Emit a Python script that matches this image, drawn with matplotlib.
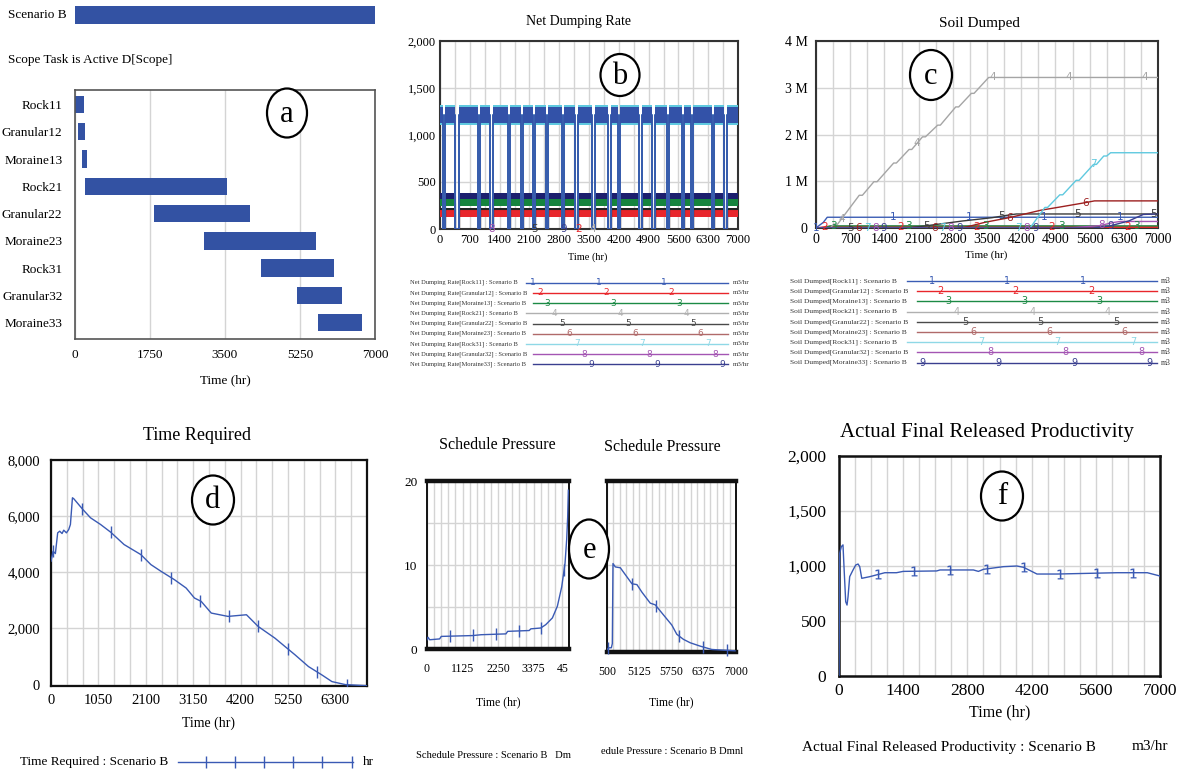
import numpy as np
import matplotlib
matplotlib.use("Agg")
import matplotlib.pyplot as plt
from matplotlib.patches import Ellipse

plt.rcParams['font.family'] = ['Liberation Serif', 'DejaVu Serif']
plt.rcParams['mathtext.fontset'] = 'dejavusans'

# ---------------- (a) task activity ----------------
scenario_span = [0, 7000]
tasks = ["Rock11", "Granular12", "Moraine13", "Rock21", "Granular22",
         "Moraine23", "Rock31", "Granular32", "Moraine33"]
task_start = [0, 70, 165, 235, 1845, 3000, 4340, 5170, 5660]
task_end = [200, 225, 290, 3545, 4090, 5615, 6050, 6220, 6690]

# ---------------- (b) net dumping rate, m3/hr ----------------
# idle periods (hr) shared by all scopes
rate_gaps = [(65, 110), (360, 440), (885, 950), (1185, 1250), (1590, 1645),
             (1905, 1960), (2180, 2240), (2490, 2545), (2860, 2920),
             (3180, 3235), (3580, 3640), (3955, 4015), (4180, 4235),
             (4685, 4740), (4990, 5050), (5325, 5385), (5680, 5740),
             (5890, 5950), (6385, 6445), (6665, 6730)]
rate_series = ["Granular12", "Granular22", "Moraine13", "Moraine33", "Rock31", "Rock11"]
rate_low = [125, 200, 240, 320, 1110, 1125]
rate_high = [200, 225, 318, 385, 1315, 1295]
rate_mark_text = ["8", "5", "9", "2", "4"]
rate_mark_t = [1210, 2230, 2915, 3250, 3595]

# ---------------- (c) soil dumped, million m3 ----------------
soil_rock11_t = [0, 60, 150, 230, 7000]
soil_rock11_v = [0, 0.05, 0.12, 0.23, 0.23]
soil_granular12_t = [0, 70, 225, 7000]
soil_granular12_v = [0, 0, 0.025, 0.025]
soil_moraine13_t = [0, 165, 290, 7000]
soil_moraine13_v = [0, 0, 0.045, 0.045]
soil_rock21_t = [0, 293, 360, 440, 885, 950, 1185, 1250, 1590, 1645, 1905, 1960,
                 2180, 2240, 2490, 2545, 2860, 2920, 3180, 3235, 3534, 7000]
soil_rock21_v = [0, 0, 0.08, 0.08, 0.70, 0.70, 0.99, 0.99, 1.39, 1.39, 1.68, 1.68,
                 1.95, 1.95, 2.20, 2.20, 2.59, 2.59, 2.88, 2.88, 3.22, 3.22]
soil_granular22_t = [0, 1850, 2200, 3000, 3600, 3900, 4100, 7000]
soil_granular22_v = [0, 0, 0.04, 0.15, 0.22, 0.27, 0.30, 0.30]
soil_moraine23_t = [0, 3000, 3450, 3950, 4600, 5000, 5500, 5700, 7000]
soil_moraine23_v = [0, 0, 0.12, 0.22, 0.38, 0.45, 0.54, 0.58, 0.58]
soil_rock31_t = [0, 4380, 4685, 4740, 4990, 5050, 5325, 5385, 5680, 5740,
                 5890, 5950, 6030, 7000]
soil_rock31_v = [0, 0, 0.44, 0.44, 0.71, 0.71, 1.02, 1.02, 1.36, 1.36,
                 1.54, 1.54, 1.61, 1.61]
soil_granular32_t = [0, 5170, 5800, 6100, 6230, 7000]
soil_granular32_v = [0, 0, 0.05, 0.12, 0.14, 0.14]
soil_moraine33_t = [0, 5660, 6000, 6400, 6700, 7000]
soil_moraine33_v = [0, 0, 0.04, 0.15, 0.29, 0.30]
soil_label_t = [[0, 1569, 3125, 4673, 6215], [177, 1726, 3295, 4830, 6379],
                [362, 1897, 3466, 5015, 6556], [519, 2067, 3623, 5171, 6720],
                [703, 2258, 3793, 5356, 6911], [873, 2422, 3964, 5512],
                [1044, 2593, 4148, 5683], [1214, 2763, 4319, 5854],
                [1385, 2941, 4489, 6024]]

# ---------------- (d) time required, hr ----------------
time_req_t = [0, 45, 97, 148, 193, 245, 282, 342, 393, 430, 475, 505, 705, 876,
              1099, 1322, 1619, 1990, 2213, 2436, 2733, 2993, 3178, 3327, 3550,
              3921, 4330, 4589, 4960, 5183, 5406, 5703, 6000, 6223, 6520, 7000]
time_req_v = [4393, 4750, 4667, 5405, 5464, 5381, 5500, 5405, 5524, 5702, 6655,
              6619, 6238, 5940, 5702, 5429, 4988, 4631, 4274, 4036, 3738, 3440,
              3083, 2964, 2548, 2429, 2488, 2071, 1655, 1357, 1060, 643, 345,
              107, 0, -40]
time_req_marks = [45, 690, 1322, 1990, 2659, 3305, 3944, 4589, 5242, 5889, 6557]

# ---------------- (e) schedule pressure, dmnl ----------------
sp_early_t = [0, 32, 84, 400, 452, 1451, 1714, 2502, 2555, 3238, 3291, 3606,
              3764, 3974, 4132, 4269, 4374, 4426, 4458, 4479]
sp_early_v = [1.1, 1.4, 1.1, 1.2, 1.5, 1.6, 1.7, 1.8, 2.1, 2.2, 2.4, 2.5,
              2.9, 3.7, 5.1, 7.4, 10.2, 13.0, 15.7, 18.9]
sp_early_marks = [736, 1472, 2187, 2902, 3627, 4342]
sp_late_t = [4500, 4532, 4584, 4603, 4616, 4661, 4758, 4983, 5080, 5177, 5338,
             5434, 5595, 5756, 5853, 5982, 6111, 6304, 6530, 6981]
sp_late_v = [0, 0.2, 0.2, 0.7, 10.2, 9.8, 9.7, 7.8, 7.7, 6.8, 5.5,
             5.3, 4.1, 2.9, 1.8, 1.2, 0.8, 0.4, 0, -0.16]
sp_late_marks = [4519, 4983, 5447, 5905, 6369, 6820]

# ---------------- (f) actual final released productivity, m3/hr ----------------
afrp_t = [0, 15, 51, 87, 109, 146, 175, 197, 233, 306, 365, 416, 452, 496, 671,
          890, 999, 1254, 1400, 2129, 2202, 2931, 3040, 3150, 3587, 3879, 4025,
          4317, 4754, 6067, 6723, 7000]
afrp_v = [0, 1116, 1176, 1192, 994, 675, 645, 720, 903, 964, 1009, 1018, 994,
          888, 903, 927, 939, 939, 951, 955, 964, 964, 951, 970, 994, 1000, 988,
          927, 927, 939, 939, 909]
afrp_marks = [853, 1633, 2420, 3222, 4024, 4826, 5628, 6416]

# ---------------- styling ----------------
W, H = 1187, 771
BAR = '#3352a3'
LINE = '#3a5ab4'
GRID = '#d4d4d4'
SERIES_COL = ['#3a5cb4', '#e8262b', '#1c8a45', '#a5a5a5', '#3a3a3a',
              '#9c1f1f', '#5fc9df', '#a455b3', '#3a3f8f']
LEGEND_COL = ['#3a5cb4', '#e8262b', '#1c8a45', '#b0b0b0', '#4a4a4a',
              '#b06a6a', '#8fd8e6', '#a455b3', '#3a3f8f']
RATE_COL = ['#e8262b', '#222222', '#16843e', '#1c1f6e', '#5fc9df', '#3352a8']

fig = plt.figure(figsize=(W / 100, H / 100), dpi=100)


def add_ax(l, t, r, b):
    return fig.add_axes([l / W, 1 - b / H, (r - l) / W, (b - t) / H])


def frame(ax, color='#222222', lw=1.3):
    for s in ax.spines.values():
        s.set_color(color)
        s.set_linewidth(lw)
    ax.tick_params(which='both', length=0)
    ax.set_axisbelow(True)


def vgrid(ax, step, lo, hi):
    ax.set_xticks(np.arange(lo, hi + 1, step), minor=True)
    ax.grid(which='both', axis='x', color=GRID, lw=1.0)


def fmt_thousands(vals):
    return [f"{v:,.0f}" for v in vals]


def tick_marks(ax, t, v, marks, **kw):
    ax.plot(marks, np.interp(marks, t, v), ls='none', color=LINE, zorder=4, **kw)


TICK = dict(marker='|', ms=8, mew=1.0)
ONE = dict(marker='$1$', ms=7, mew=0.1)

# ---- (a) ----
ax0 = add_ax(75, 5, 375, 25)
ax0.barh([0], [scenario_span[1] - scenario_span[0]], left=scenario_span[0],
         height=0.86, color=BAR)
ax0.set_xlim(0, 7000)
ax0.set_ylim(-0.5, 0.5)
ax0.axis('off')

axa = add_ax(75, 90, 375, 339)
ypos = np.arange(len(tasks))
axa.barh(ypos, np.array(task_end) - np.array(task_start), left=task_start,
         height=0.64, color=BAR)
axa.set_xlim(0, 7000)
axa.set_ylim(8.6, -0.53)
axa.set_yticks(ypos, tasks)
axa.set_xticks([0, 1750, 3500, 5250, 7000])
axa.grid(axis='x', color=GRID, lw=1.0)
frame(axa, '#555555', 1.2)
axa.tick_params(axis='x', labelsize=9.5, pad=7)
axa.tick_params(axis='y', labelsize=9.5, pad=9)

# ---- (b) ----
axb = add_ax(440, 41, 738, 229)
edges = [0] + [g for gap in rate_gaps for g in gap] + [7000]
on_spans = list(zip(edges[0::2], edges[1::2]))
for lo, hi, col in zip(rate_low, rate_high, RATE_COL):
    mid = (lo + hi) / 2
    st, sv = [0], [mid]
    for a, b in rate_gaps:
        st += [a, a, b, b]
        sv += [mid, 0, 0, mid]
    st.append(7000)
    sv.append(mid)
    lw = 1.3 if hi > 1000 else 0.8
    axb.plot(st, sv, color=col, lw=lw, zorder=3)
    for s, e in on_spans:
        axb.fill_between([s, e], [lo, lo], [hi, hi], color=col, lw=0, zorder=3)
for txt, t in zip(rate_mark_text, rate_mark_t):
    axb.text(t, 0, txt, color=SERIES_COL[int(txt) - 1], fontsize=7.5,
             ha='center', va='center', clip_on=False, zorder=5,
             family='DejaVu Sans')
axb.set_xlim(0, 7000)
axb.set_ylim(0, 2000)
axb.set_xticks(np.arange(0, 7001, 700))
axb.set_yticks([0, 500, 1000, 1500, 2000], fmt_thousands([0, 500, 1000, 1500, 2000]))
vgrid(axb, 350, 0, 7000)
axb.grid(which='major', axis='y', color=GRID, lw=1.0)
frame(axb, '#333333', 1.5)
axb.tick_params(axis='x', labelsize=9, pad=3.5)
axb.tick_params(axis='y', labelsize=9, pad=3)

# ---- (c) ----
axc = add_ax(816, 41, 1158, 228)
soil_t = [soil_rock11_t, soil_granular12_t, soil_moraine13_t, soil_rock21_t,
          soil_granular22_t, soil_moraine23_t, soil_rock31_t, soil_granular32_t,
          soil_moraine33_t]
soil_v = [soil_rock11_v, soil_granular12_v, soil_moraine13_v, soil_rock21_v,
          soil_granular22_v, soil_moraine23_v, soil_rock31_v, soil_granular32_v,
          soil_moraine33_v]
for k, (t, v) in enumerate(zip(soil_t, soil_v)):
    axc.plot(t, v, color=SERIES_COL[k], lw=1.6 if k == 1 else 1.0, zorder=3)
    for lt in soil_label_t[k]:
        axc.text(lt, np.interp(lt, t, v), str(k + 1), color=SERIES_COL[k],
                 fontsize=7.5, ha='center', va='center', clip_on=False,
                 zorder=5, family='DejaVu Sans')
axc.set_xlim(0, 7000)
axc.set_ylim(0, 4)
axc.set_xticks(np.arange(0, 7001, 700))
axc.set_yticks([0, 1, 2, 3, 4], ['0', '1 M', '2 M', '3 M', '4 M'])
vgrid(axc, 350, 0, 7000)
axc.grid(which='major', axis='y', color=GRID, lw=1.0)
frame(axc, '#333333', 1.5)
axc.tick_params(axis='x', labelsize=10, pad=3.5)
axc.tick_params(axis='y', labelsize=10, pad=6)

# ---- (d) ----
axd = add_ax(51, 460, 367, 686)
axd.plot(time_req_t, time_req_v, color=LINE, lw=1.0, zorder=3)
tick_marks(axd, time_req_t, time_req_v, time_req_marks, **TICK)
axd.set_xlim(0, 7000)
axd.set_ylim(-50, 8000)
axd.set_xticks(np.arange(0, 6301, 1050))
axd.set_yticks([0, 2000, 4000, 6000, 8000], fmt_thousands([0, 2000, 4000, 6000, 8000]))
vgrid(axd, 350, 0, 7000)
axd.grid(which='major', axis='y', color=GRID, lw=1.0)
frame(axd, '#111111', 1.6)
axd.tick_params(axis='x', labelsize=10.5, pad=6)
axd.tick_params(axis='y', labelsize=10.5, pad=8)

# ---- (e) ----
axe1 = add_ax(427, 481, 569, 649)
axe1.plot(sp_early_t, sp_early_v, color=LINE, lw=1.0, zorder=3)
tick_marks(axe1, sp_early_t, sp_early_v, sp_early_marks, **TICK)
axe1.set_xlim(0, 4500)
axe1.set_ylim(0, 20)
axe1.set_xticks([0, 1125, 2250, 3375, 4500], ['0', '1125', '2250', '3375', '45'])
axe1.set_yticks([0, 10, 20])
axe1.set_yticks([5, 15], minor=True)
vgrid(axe1, 225, 0, 4500)
axe1.grid(which='both', axis='y', color=GRID, lw=1.0)

axe2 = add_ax(607, 481, 736, 652)
axe2.plot(sp_late_t, sp_late_v, color=LINE, lw=1.0, zorder=3)
tick_marks(axe2, sp_late_t, sp_late_v, sp_late_marks, clip_on=False, **TICK)
axe2.set_xlim(4500, 7000)
axe2.set_ylim(-0.3, 20)
axe2.set_xticks([4500, 5125, 5750, 6375, 7000], ['500', '5125', '5750', '6375', '7000'])
axe2.set_yticks([5, 10, 15], ['', '', ''])
vgrid(axe2, 125, 4500, 7000)
axe2.grid(which='major', axis='y', color=GRID, lw=1.0)
for ax in (axe1, axe2):
    frame(ax, '#111111', 1.4)
    ax.spines['top'].set_linewidth(3.2)
    ax.spines['bottom'].set_linewidth(3.2)
    ax.tick_params(axis='x', labelsize=8.5, pad=10)
    ax.tick_params(axis='y', labelsize=9.5, pad=7)
# the clipped end label of the early half sits just inside its tick
lab = axe1.get_xticklabels()[-1]
lab.set_horizontalalignment('right')

# ---- (f) ----
axf = add_ax(839, 456, 1160, 676)
axf.plot(afrp_t, afrp_v, color=LINE, lw=1.0, zorder=3)
tick_marks(axf, afrp_t, afrp_v, afrp_marks, **ONE)
axf.set_xlim(0, 7000)
axf.set_ylim(0, 2000)
axf.set_xticks(np.arange(0, 7001, 1400))
axf.set_yticks([0, 500, 1000, 1500, 2000], fmt_thousands([0, 500, 1000, 1500, 2000]))
vgrid(axf, 350, 0, 7000)
axf.grid(which='major', axis='y', color=GRID, lw=1.0)
frame(axf, '#111111', 1.8)
axf.tick_params(axis='x', labelsize=12.5, pad=5)
axf.tick_params(axis='y', labelsize=12.5, pad=9)

# ---------------- annotations in pixel space ----------------
ov = fig.add_axes([0, 0, 1, 1], zorder=10)
ov.set_xlim(0, W)
ov.set_ylim(H, 0)
ov.axis('off')

# panel a captions
ov.text(8, 15, "Scenario B", fontsize=9.5, va='center', ha='left')
ov.text(8, 60, "Scope Task is Active D[Scope]", fontsize=9.5, va='center', ha='left')

# titles and axis names
ov.text(579, 22, "Net Dumping Rate", fontsize=10, ha='center', va='center')
ov.text(979, 23, "Soil Dumped", fontsize=11, ha='center', va='center')
ov.text(197, 435, "Time Required", fontsize=13, ha='center', va='center')
ov.text(497, 445, "Schedule Pressure", fontsize=11.5, ha='center', va='center')
ov.text(662, 447, "Schedule Pressure", fontsize=11.5, ha='center', va='center')
ov.text(987, 433, "Actual Final Released Productivity", fontsize=15,
        ha='center', va='center')
for x, y, fs in [(225, 380, 9.5), (588, 257, 7.5), (986, 255, 8),
                 (208, 723, 10), (498, 702, 8.5), (671, 702, 8.5), (1000, 712, 11.5)]:
    ov.text(x, y, "Time (hr)", fontsize=fs, ha='center', va='center')

names = ["Rock11", "Granular12", "Moraine13", "Rock21", "Granular22",
         "Moraine23", "Rock31", "Granular32", "Moraine33"]

# legend of (b)
for k in range(9):
    y = 282.7 + 10.2 * k
    ov.text(410, y, f"Net Dumping Rate[{names[k]}] : Scenario B", fontsize=4.7,
            va='center', ha='left', color='#333333')
    x0 = 526 if k % 3 == 0 else 533
    ov.plot([x0, 728], [y, y], color=LEGEND_COL[k], lw=1.0)
    for n in range(-1, 4):
        p = 532.7 + 7.33 * k + 65.67 * n
        if x0 <= p <= 729.5:
            ov.text(p, y, str(k + 1), color=LEGEND_COL[k], fontsize=6.5,
                    ha='center', va='center', family='DejaVu Sans')
    ov.text(733, y, "m3/hr", fontsize=5.0, va='center', ha='left', color='#333333')

# legend of (c)
for k in range(9):
    y = 281 + 10.2 * k
    ov.text(790, y, f"Soil Dumped[{names[k]}] : Scenario B", fontsize=5.4,
            va='center', ha='left', color='#333333')
    x0 = 907 if k % 3 == 0 else 917
    ov.plot([x0, 1157], [y, y], color=LEGEND_COL[k], lw=1.0)
    for n in range(-1, 4):
        p = 931.7 + 8.33 * k + 75.67 * n
        if x0 <= p <= 1158:
            ov.text(p, y, str(k + 1), color=LEGEND_COL[k], fontsize=7,
                    ha='center', va='center', family='DejaVu Sans')
    ov.text(1161, y, "m3", fontsize=5.6, va='center', ha='left', color='#333333')

# legend of (d)
ov.text(20, 762, "Time Required : Scenario B", fontsize=9.5, va='center', ha='left')
ov.plot([178, 353], [762, 762], color=LINE, lw=1.0)
ov.plot([206, 235, 264, 293, 322, 352], [762] * 6, ls='none', color=LINE, **TICK)
ov.text(363, 762, "hr", fontsize=9.5, va='center', ha='left')

# legends of (e), cut off at the panel edges
ov.text(416, 755, "Schedule Pressure : Scenario B   Dm", fontsize=7.6,
        va='center', ha='left')
ov.text(743, 752, "edule Pressure : Scenario B Dmnl", fontsize=7.6,
        va='center', ha='right')

# legend of (f)
ov.text(802, 747, "Actual Final Released Productivity : Scenario B", fontsize=11,
        va='center', ha='left')
ov.text(1132, 747, "m3/hr", fontsize=11, va='center', ha='left')

# panel tags
for (cx, cy, w, h), letter in zip([(287, 113, 40, 49), (620, 75, 39, 42),
                                   (931, 75, 42, 50), (213, 500, 42, 49),
                                   (589, 549, 40, 59), (1002, 496, 42, 49)],
                                  "abcdef"):
    ov.add_patch(Ellipse((cx, cy), w, h, fill=True, facecolor='white',
                         edgecolor='black', lw=1.6, zorder=20))
    ov.text(cx, cy + 1, letter, fontsize=22, ha='center', va='center', zorder=21)

fig.savefig("out.png", dpi=100)
